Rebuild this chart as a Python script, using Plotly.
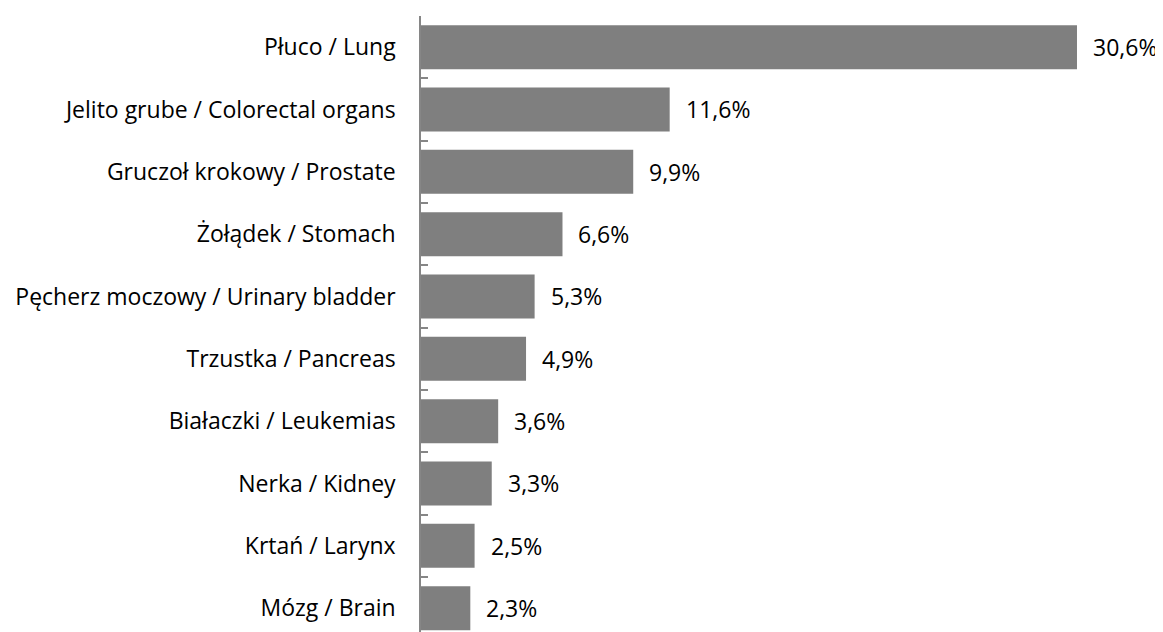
import plotly.graph_objects as go

categories = [
    "Płuco / Lung",
    "Jelito grube / Colorectal organs",
    "Gruczoł krokowy / Prostate",
    "Żołądek / Stomach",
    "Pęcherz moczowy / Urinary bladder",
    "Trzustka / Pancreas",
    "Białaczki / Leukemias",
    "Nerka / Kidney",
    "Krtań / Larynx",
    "Mózg / Brain",
]
values = [30.6, 11.6, 9.9, 6.6, 5.3, 4.9, 3.6, 3.3, 2.5, 2.3]
value_labels = ["30,6%", "11,6%", "9,9%", "6,6%", "5,3%", "4,9%", "3,6%", "3,3%", "2,5%", "2,3%"]

cats_r = categories[::-1]
vals_r = values[::-1]
labs_r = value_labels[::-1]

FONT = "Open Sans"
FS = 23
fig = go.Figure(go.Bar(
    x=vals_r, y=cats_r, orientation="h",
    marker=dict(color="#7f7f7f", line=dict(width=0)),
    hoverinfo="skip",
))

for v, c, t in zip(vals_r, cats_r, labs_r):
    fig.add_annotation(x=v, y=c, text=t, showarrow=False, xanchor="left",
                       xshift=14, font=dict(family=FONT, size=FS, color="#000000"))

# page body has an 8px default margin, so the figure is sized/offset to compensate
fig.update_layout(
    width=1155, height=624,
    margin=dict(l=413, r=56, t=8, b=0, autoexpand=False),
    paper_bgcolor="white", plot_bgcolor="white",
    bargap=0.294, showlegend=False,
    font=dict(family=FONT, size=FS, color="#000000"),
)
fig.update_xaxes(range=[0, 32], visible=False, showgrid=False, zeroline=False,
                 automargin=False)
fig.update_yaxes(
    type="category", range=[-0.383, 9.5], autorange=False,
    showline=True, linecolor="#868686", linewidth=1.5,
    ticks="inside", ticklen=7, tickcolor="#868686", tickwidth=1.5,
    tickson="boundaries", showgrid=False, zeroline=False,
    ticklabelstandoff=19, automargin=False,
    tickfont=dict(family=FONT, size=FS, color="#000000"),
)

fig.write_html("out.html")
